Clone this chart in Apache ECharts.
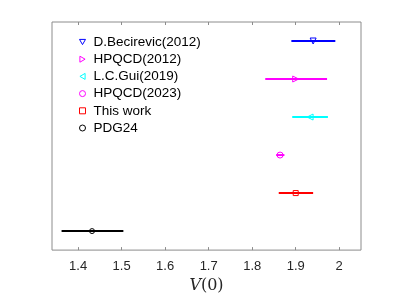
<!DOCTYPE html>
<html><head><meta charset="utf-8">
<script src="https://cdn.jsdelivr.net/npm/echarts@6/dist/echarts.min.js"></script>
<style>html,body{margin:0;padding:0;background:#fff}#c{width:399px;height:299px}</style>
</head><body><div id="c"></div>
<script>
const names = ['D.Becirevic(2012)','HPQCD(2012)','L.C.Gui(2019)','HPQCD(2023)','This work','PDG24'];
const centers = [1.94, 1.90, 1.933, 1.864, 1.90, 1.432];
const lows = [1.89, 1.83, 1.892, 1.855, 1.861, 1.362];
const highs = [1.991, 1.972, 1.974, 1.874, 1.940, 1.504];
const rows = [6, 5, 4, 3, 2, 1];
const colors = ['#0000ff','#ff00ff','#00ffff','#ff00ff','#ff0000','#000000'];
const symbols = ['path://M0,0L2,0L1,1.732Z','path://M0,0L1.732,1L0,2Z','path://M1.732,0L0,1L1.732,2Z','circle','rect','circle'];
const symbolSizes = [6, 6, 6, 6, 5, 5];
const xTicks = [1.4,1.5,1.6,1.7,1.8,1.9,2.0];

const series = [];
names.forEach((n,i)=>{
  series.push({
    type:'custom', name:'err'+i, silent:true,
    data:[[lows[i], highs[i], rows[i]]],
    renderItem:(params, api)=>{
      const a = api.coord([api.value(0), api.value(2)]);
      const b = api.coord([api.value(1), api.value(2)]);
      return {type:'line', shape:{x1:a[0],y1:a[1],x2:b[0],y2:b[1]}, style:{stroke:colors[i], lineWidth:2}};
    },
    z:2
  });
  series.push({
    type:'scatter', name:n, data:[[centers[i], rows[i]]],
    symbol:symbols[i], symbolSize:symbolSizes[i],
    itemStyle:{color:'rgba(0,0,0,0)', borderColor:colors[i], borderWidth:1, opacity:1},
    z:3
  });
});

const chart = echarts.init(document.getElementById('c'));
chart.setOption({
  animation:false,
  grid:{left:52, right:38, top:22, bottom:45, show:true, borderColor:'#8c8c8c', borderWidth:1, backgroundColor:'transparent'},
  legend:{
    orient:'vertical', left:74, top:30, itemWidth:6, itemHeight:6, itemGap:3.2,
    data:names,
    itemStyle:{borderWidth:1},
    textStyle:{fontFamily:'Liberation Sans, Arial, sans-serif', fontSize:13.5, color:'#000', lineHeight:14, padding:[0,0,0,3]}
  },
  xAxis:[{
    type:'value', min:1.34, max:2.05, position:'bottom',
    axisLine:{show:false},
    splitLine:{show:false},
    axisTick:{inside:true, length:3, customValues:xTicks, lineStyle:{color:'#8c8c8c'}},
    axisLabel:{customValues:xTicks, formatter:v=>String(Number(v.toFixed(1))), fontFamily:'Liberation Sans, Arial, sans-serif', fontSize:13, color:'#262626', margin:10},
    name:'{i|V}{n|(0)}', nameLocation:'middle', nameGap:22,
    nameTextStyle:{rich:{i:{fontFamily:'DejaVu Serif, serif', fontStyle:'italic', fontSize:16, color:'#262626'}, n:{fontFamily:'DejaVu Serif, serif', fontSize:16, color:'#262626'}}}
  },{
    type:'value', min:1.34, max:2.05, position:'top',
    axisLine:{show:false}, splitLine:{show:false},
    axisTick:{inside:true, length:3, customValues:xTicks, lineStyle:{color:'#8c8c8c'}},
    axisLabel:{show:false}
  }],
  yAxis:{type:'value', min:0.5, max:6.5, show:false},
  series:series
});
</script></body></html>
